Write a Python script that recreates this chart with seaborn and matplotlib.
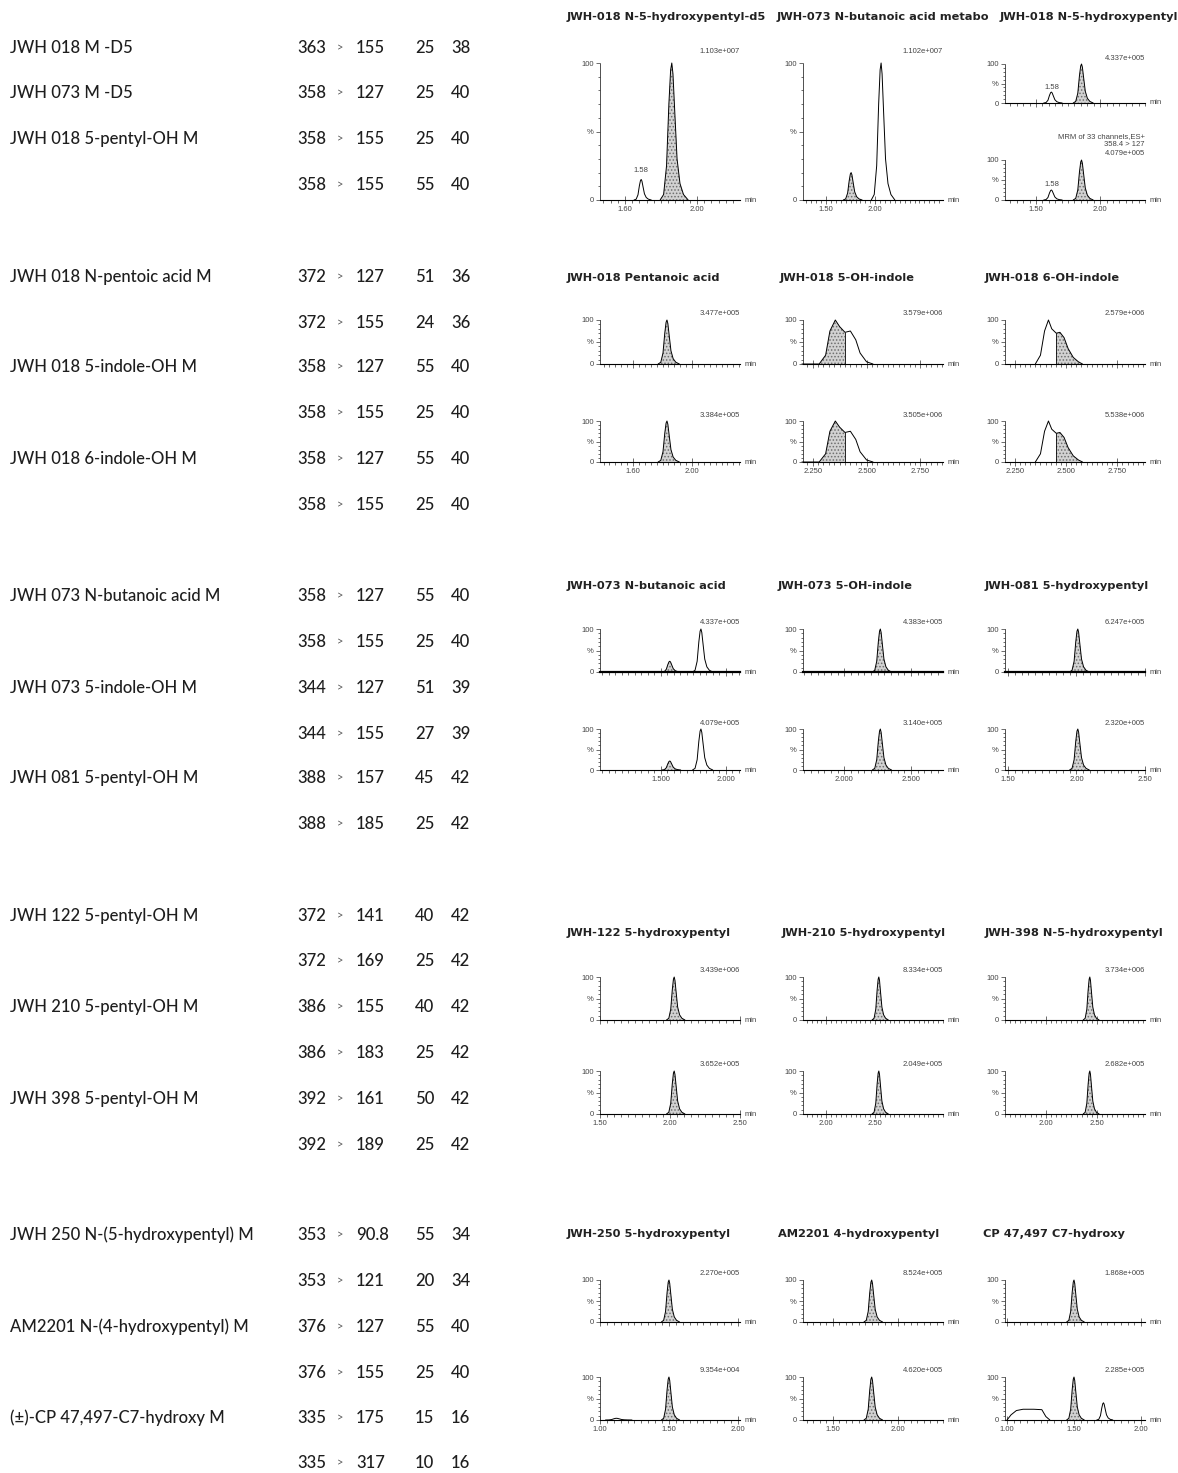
import numpy as np
import matplotlib
matplotlib.use('Agg')
import matplotlib.pyplot as plt
from matplotlib.ticker import MultipleLocator
import seaborn as sns

sns.set_style('white')
plt.rcParams['font.family'] = ['Liberation Sans', 'DejaVu Sans']
plt.rcParams['hatch.linewidth'] = 0.7

W, H = 1178, 1473

# ---------------- transition table (left) ----------------
NAMES = ["JWH 018 M -D5", "JWH 073 M -D5", "JWH 018 5-pentyl-OH M", "",
         "JWH 018 N-pentoic acid M", "", "JWH 018 5-indole-OH M", "", "JWH 018 6-indole-OH M", "",
         "JWH 073 N-butanoic acid M", "", "JWH 073 5-indole-OH M", "", "JWH 081 5-pentyl-OH M", "",
         "JWH 122 5-pentyl-OH M", "", "JWH 210 5-pentyl-OH M", "", "JWH 398 5-pentyl-OH M", "",
         "JWH 250 N-(5-hydroxypentyl) M", "", "AM2201 N-(4-hydroxypentyl) M", "",
         "(±)-CP 47,497-C7-hydroxy M", ""]
PRECURSOR = ["363", "358", "358", "358",
             "372", "372", "358", "358", "358", "358",
             "358", "358", "344", "344", "388", "388",
             "372", "372", "386", "386", "392", "392",
             "353", "353", "376", "376", "335", "335"]
PRODUCT = ["155", "127", "155", "155",
           "127", "155", "127", "155", "127", "155",
           "127", "155", "127", "155", "157", "185",
           "141", "169", "155", "183", "161", "189",
           "90.8", "121", "127", "155", "175", "317"]
COLLISION = ["25", "25", "25", "55",
             "51", "24", "55", "25", "55", "25",
             "55", "25", "51", "27", "45", "25",
             "40", "25", "40", "25", "50", "25",
             "55", "20", "55", "25", "15", "10"]
CONE = ["38", "40", "40", "40",
        "36", "36", "40", "40", "40", "40",
        "40", "40", "39", "39", "42", "42",
        "42", "42", "42", "42", "42", "42",
        "34", "34", "40", "40", "16", "16"]
ROW_Y = [48, 93, 139, 185,
         277, 323, 367, 413, 459, 505,
         596, 642, 688, 734, 778, 824,
         916, 961, 1007, 1053, 1099, 1145,
         1235, 1281, 1327, 1373, 1418, 1463]

# ---------------- chromatograms (right) ----------------
TITLES = [
    ["JWH-018 N-5-hydroxypentyl-d5", "JWH-073 N-butanoic acid metabo", "JWH-018 N-5-hydroxypentyl"],
    ["JWH-018 Pentanoic acid", "JWH-018 5-OH-indole", "JWH-018 6-OH-indole"],
    ["JWH-073 N-butanoic acid", "JWH-073 5-OH-indole", "JWH-081 5-hydroxypentyl"],
    ["JWH-122 5-hydroxypentyl", "JWH-210 5-hydroxypentyl", "JWH-398 N-5-hydroxypentyl"],
    ["JWH-250 5-hydroxypentyl", "AM2201 4-hydroxypentyl", "CP 47,497 C7-hydroxy"],
]
INTENSITY = [
    [["1.103e+007"], ["1.102e+007"], ["4.337e+005", "4.079e+005"]],
    [["3.477e+005", "3.384e+005"], ["3.579e+006", "3.505e+006"], ["2.579e+006", "5.538e+006"]],
    [["4.337e+005", "4.079e+005"], ["4.383e+005", "3.140e+005"], ["6.247e+005", "2.320e+005"]],
    [["3.439e+006", "3.652e+005"], ["8.334e+005", "2.049e+005"], ["3.734e+006", "2.682e+005"]],
    [["2.270e+005", "9.354e+004"], ["8.524e+005", "4.620e+005"], ["1.868e+005", "2.285e+005"]],
]
XTICK_LABELS = [
    [["1.60", "2.00"], ["1.50", "2.00"], ["1.50", "2.00"]],
    [["1.60", "2.00"], ["2.250", "2.500", "2.750"], ["2.250", "2.500", "2.750"]],
    [["1.500", "2.000"], ["2.000", "2.500"], ["1.50", "2.00", "2.50"]],
    [["1.50", "2.00", "2.50"], ["2.00", "2.50"], ["2.00", "2.50"]],
    [["1.00", "1.50", "2.00"], ["1.50", "2.00"], ["1.00", "1.50", "2.00"]],
]
XLIMS = [
    [(1.461, 2.239), (1.265, 2.69), (1.258, 2.35)],
    [(1.376, 2.325), (2.205, 2.855), (2.202, 2.885)],
    [(1.032, 2.111), (1.69, 2.74), (1.479, 2.50)],
    [(1.50, 2.50), (1.76, 3.20), (1.60, 2.97)],
    [(1.00, 2.015), (1.27, 2.35), (0.985, 2.03)],
]
# peaks: (retention time, height %, half width, shaded) or name of a traced profile
PEAKS = [
    [[[(1.69, 15, 0.04, False), (1.86, 100, 0.065, True)]],
     [[(1.755, 20, 0.08, True), (2.06, 100, 0.10, False)]],
     [[(1.62, 28, 0.06, False), (1.855, 100, 0.065, True)],
      [(1.62, 25, 0.06, False), (1.855, 100, 0.065, True)]]],
    [[[(1.83, 100, 0.06, True)], [(1.83, 100, 0.06, True)]],
     [["5OH"], ["5OH"]],
     [["6OH"], ["6OH"]]],
    [[[(1.57, 25, 0.06, True), (1.81, 100, 0.065, False)],
      [(1.57, 22, 0.06, True), (1.81, 100, 0.065, False)]],
     [[(2.27, 100, 0.06, True)], [(2.27, 100, 0.06, True)]],
     [[(2.01, 100, 0.06, True)], [(2.01, 100, 0.06, True)]]],
    [[[(2.03, 100, 0.055, True)], [(2.03, 100, 0.055, True)]],
     [[(2.54, 100, 0.07, True)], [(2.54, 100, 0.07, True)]],
     [[(2.43, 100, 0.065, True)], [(2.43, 100, 0.065, True)]]],
    [[[(1.50, 100, 0.055, True)], [(1.12, 4, 0.08, False), (1.50, 100, 0.055, True)]],
     [[(1.80, 100, 0.06, True)], [(1.80, 100, 0.06, True)]],
     [[(1.50, 100, 0.055, True)], ["CPHUMP", (1.50, 100, 0.055, True), (1.72, 40, 0.05, False)]]],
]
# shared peak profile (offset in half widths, % of apex)
PEAK_OFFSETS = [-1.0, -0.7, -0.45, -0.25, -0.1, 0.0, 0.1, 0.25, 0.45, 0.7, 1.0, 1.4]
PEAK_LEVELS = [0, 4, 25, 70, 95, 100, 92, 65, 30, 12, 4, 0]

# traced profiles for merged / odd peaks: times, %, shaded range
TRACE_5OH_T = [2.20, 2.28, 2.31, 2.33, 2.355, 2.375, 2.40, 2.425, 2.45, 2.47, 2.50, 2.53]
TRACE_5OH_Y = [0, 0, 20, 75, 100, 85, 72, 75, 55, 25, 5, 0]
TRACE_6OH_T = [2.35, 2.375, 2.395, 2.414, 2.43, 2.452, 2.47, 2.49, 2.51, 2.535, 2.56, 2.58]
TRACE_6OH_Y = [0, 20, 75, 100, 80, 70, 72, 60, 35, 15, 5, 0]
HUMP_CP_T = [1.00, 1.03, 1.07, 1.12, 1.20, 1.26, 1.29, 1.32]
HUMP_CP_Y = [0, 12, 22, 25, 25, 24, 8, 0]
TRACES = {"5OH": (TRACE_5OH_T, TRACE_5OH_Y, (2.28, 2.40)),
          "6OH": (TRACE_6OH_T, TRACE_6OH_Y, (2.452, 2.58)),
          "CPHUMP": (HUMP_CP_T, HUMP_CP_Y, None)}

RT_LABELS = {(0, 0, 0): (1.69, 15, "1.58"), (0, 2, 0): (1.62, 28, "1.58"), (0, 2, 1): (1.62, 25, "1.58")}

# ---------------- layout (pixels) ----------------
COL_X = [(600, 740), (803, 943), (1005, 1145)]
TITLE_X = [[567, 777, 1000], [567, 780, 985], [567, 778, 985], [567, 782, 985], [567, 778, 983]]
TITLE_Y = [17, 278, 586, 933, 1234]
ROWS = [None, [(320, 364), (421, 462)], [(629, 672), (729, 770)],
        [(977, 1020), (1071, 1114)], [(1280, 1322), (1377, 1420)]]

fig = plt.figure(figsize=(W / 100, H / 100), dpi=100)

# left table
name_font = dict(family=['Lato', 'DejaVu Sans'], fontsize=12, fontweight='medium',
                 color='#1e1e1e', va='center')
for i, y in enumerate(ROW_Y):
    fy = 1 - y / H
    if NAMES[i]:
        fig.text(10 / W, fy, NAMES[i], ha='left', **name_font)
    fig.text(297 / W, fy, PRECURSOR[i], ha='left', **name_font)
    fig.text(340 / W, fy, '>', ha='center', family=['Lato', 'DejaVu Sans'], fontsize=8,
             color='#555555', va='center')
    fig.text(356 / W, fy, PRODUCT[i], ha='left', **name_font)
    fig.text(415 / W, fy, COLLISION[i], ha='left', **name_font)
    fig.text(451 / W, fy, CONE[i], ha='left', **name_font)


def px_axes(x0, x1, ytop, ybot):
    return fig.add_axes([x0 / W, 1 - ybot / H, (x1 - x0) / W, (ybot - ytop) / H])


def draw_trace(ax, t, y, shade):
    t = np.asarray(t, float)
    y = np.asarray(y, float)
    if shade is not None:
        lo, hi = shade
        m = (t >= lo - 1e-9) & (t <= hi + 1e-9)
        ax.fill_between(t, 0, y, where=m, facecolor='#d2d2d2', edgecolor='#6f6f6f',
                        hatch='.....', linewidth=0, zorder=2)
        ax.vlines([lo, hi], 0, np.interp([lo, hi], t, y), color='black', lw=0.6, zorder=3)
    sns.lineplot(x=t, y=y, ax=ax, color='black', lw=0.7, legend=False, clip_on=False,
                 zorder=4, sort=False)


def style_axis(ax, xlim, labels, show_labels, bold_base=False):
    ax.set_xlim(xlim)
    ax.set_ylim(0, 100)
    for s in ['top', 'right']:
        ax.spines[s].set_visible(False)
    ax.spines['left'].set_linewidth(0.6)
    ax.spines['left'].set_color('#333333')
    ax.spines['left'].set_linestyle((0, (1.5, 1)))
    ax.spines['bottom'].set_linewidth(1.6 if bold_base else 0.8)
    ax.spines['bottom'].set_color('black')
    ax.set_yticks([0, 50, 100])
    ax.set_yticklabels(['0', '%', '100'])
    ax.yaxis.set_minor_locator(MultipleLocator(10))
    vals = [float(s) for s in labels]
    ax.set_xticks(vals)
    ax.set_xticklabels(labels if show_labels else [])
    ax.xaxis.set_minor_locator(MultipleLocator((vals[1] - vals[0]) / 10))
    ax.tick_params(which='both', bottom=True, left=True, width=0.5, colors='#333333',
                   labelsize=5.5, pad=1.5, labelcolor='#444444')
    ax.tick_params(axis='x', which='major', direction='inout', length=6)
    ax.tick_params(axis='x', which='minor', direction='out', length=2)
    ax.tick_params(axis='y', which='major', direction='out', length=3)
    ax.tick_params(axis='y', which='minor', direction='out', length=1.5)
    ax.set_xlabel('')
    ax.set_ylabel('')
    ax.patch.set_alpha(0)
    ax.text(1.03, 0, 'min', transform=ax.transAxes, ha='left', va='center',
            fontsize=5.5, color='#444444')


small = dict(fontsize=5.5, color='#444444')

for g in range(5):
    for c in range(3):
        fig.text(TITLE_X[g][c] / W, 1 - TITLE_Y[g] / H, TITLES[g][c], ha='left', va='center',
                 family=['DejaVu Sans'], fontsize=8.2, fontweight='bold', color='#222222')
        x0, x1 = COL_X[c]
        if g == 0:
            boxes = [(63, 200)] if c < 2 else [(64, 103), (160, 200)]
        else:
            boxes = ROWS[g]
        for r, (yt, yb) in enumerate(boxes):
            ax = px_axes(x0, x1, yt, yb)
            for pk in PEAKS[g][c][r]:
                if isinstance(pk, str):
                    tt, yy, sh = TRACES[pk]
                    draw_trace(ax, tt, yy, sh)
                else:
                    rt, h, hw, shaded = pk
                    tt = [rt + o * hw for o in PEAK_OFFSETS]
                    yy = [h * v / 100 for v in PEAK_LEVELS]
                    draw_trace(ax, tt, yy, (tt[0], tt[-1]) if shaded else None)
            last = r == len(boxes) - 1
            style_axis(ax, XLIMS[g][c], XTICK_LABELS[g][c], last,
                       bold_base=(g == 2 and r == 0))
            if (g, c, r) in RT_LABELS:
                rt, h, lab = RT_LABELS[(g, c, r)]
                ax.text(rt, h + 4, lab, ha='center', va='bottom', **small)
            if g == 0 and c == 2 and r == 1:
                ax.text(1.0, 1.08, "MRM of 33 channels,ES+\n358.4 > 127\n" + INTENSITY[g][c][r],
                        transform=ax.transAxes, ha='right', va='bottom', linespacing=1.3, **small)
            else:
                ax.text(1.0, 1.06, INTENSITY[g][c][r], transform=ax.transAxes,
                        ha='right', va='bottom', **small)

fig.savefig('out.png', dpi=100)
